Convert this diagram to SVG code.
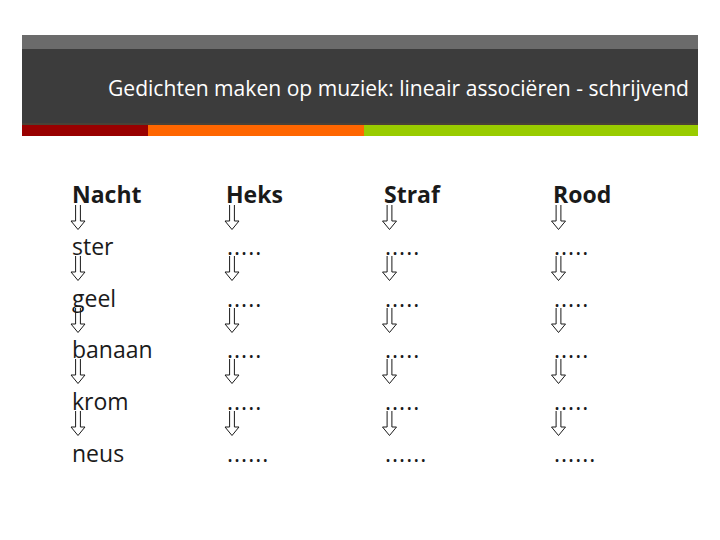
<svg xmlns="http://www.w3.org/2000/svg" width="720" height="540" viewBox="0 0 720 540">
<defs>
<style>
.t{font-family:"Open Sans","Liberation Sans",Arial,sans-serif;font-size:23px;fill:#1a1a1a}
.b{font-weight:bold}
.d{font-family:"Open Sans","Liberation Sans",Arial,sans-serif;font-size:23px;fill:#1a1a1a;letter-spacing:1px}
.ar{fill:none;stroke:#1a1a1a;stroke-width:1}
</style>
<path id="arr" d="M-2.4,0 V16 H-7 L0,24.5 L7,16 H2.4 V0"/>
</defs>
<rect width="720" height="540" fill="#ffffff"/>
<g id="header">
<rect x="22" y="35" width="676" height="14" fill="#6b6b6b"/>
<rect x="22" y="49" width="676" height="76" fill="#3c3c3c"/>
<rect x="22" y="123" width="676" height="2" fill="#4a4236"/>
<rect x="22" y="125" width="126" height="11" fill="#990000"/>
<rect x="148" y="125" width="216" height="11" fill="#ff6600"/>
<rect x="364" y="125" width="334" height="11" fill="#99cc00"/>
<text x="108" y="96" font-family="'Open Sans','Liberation Sans',Arial,sans-serif" font-size="22" fill="#ffffff" textLength="581" lengthAdjust="spacingAndGlyphs">Gedichten maken op muziek: lineair associëren - schrijvend</text>
</g>
<g id="col1">
<g id="n-nacht"><text class="t b" x="72" y="203">Nacht</text></g>
<g id="n-ster"><text class="t" x="72" y="255">ster</text></g>
<g id="n-geel"><text class="t" x="72" y="307">geel</text></g>
<g id="n-banaan"><text class="t" x="72" y="358">banaan</text></g>
<g id="n-krom"><text class="t" x="72" y="410">krom</text></g>
<g id="n-neus"><text class="t" x="72" y="462">neus</text></g>
</g>
<g id="col2">
<g id="n-heks"><text class="t b" x="226" y="203">Heks</text></g>
<g id="n-h1"><text class="d" x="227" y="255">.....</text></g>
<g id="n-h2"><text class="d" x="227" y="307">.....</text></g>
<g id="n-h3"><text class="d" x="227" y="358">.....</text></g>
<g id="n-h4"><text class="d" x="227" y="410">.....</text></g>
<g id="n-h5"><text class="d" x="227" y="462">......</text></g>
</g>
<g id="col3">
<g id="n-straf"><text class="t b" x="384" y="203">Straf</text></g>
<g id="n-s1"><text class="d" x="385" y="255">.....</text></g>
<g id="n-s2"><text class="d" x="385" y="307">.....</text></g>
<g id="n-s3"><text class="d" x="385" y="358">.....</text></g>
<g id="n-s4"><text class="d" x="385" y="410">.....</text></g>
<g id="n-s5"><text class="d" x="385" y="462">......</text></g>
</g>
<g id="col4">
<g id="n-rood"><text class="t b" x="553" y="203">Rood</text></g>
<g id="n-r1"><text class="d" x="554" y="255">.....</text></g>
<g id="n-r2"><text class="d" x="554" y="307">.....</text></g>
<g id="n-r3"><text class="d" x="554" y="358">.....</text></g>
<g id="n-r4"><text class="d" x="554" y="410">.....</text></g>
<g id="n-r5"><text class="d" x="554" y="462">......</text></g>
</g>
<g id="connectors" class="ar">
<use href="#arr" x="78" y="205"/>
<use href="#arr" x="78" y="256"/>
<use href="#arr" x="78" y="308"/>
<use href="#arr" x="78" y="359"/>
<use href="#arr" x="78" y="411"/>
<use href="#arr" x="232" y="205"/>
<use href="#arr" x="232" y="256"/>
<use href="#arr" x="232" y="308"/>
<use href="#arr" x="232" y="359"/>
<use href="#arr" x="232" y="411"/>
<use href="#arr" x="389.5" y="205"/>
<use href="#arr" x="389.5" y="256"/>
<use href="#arr" x="389.5" y="308"/>
<use href="#arr" x="389.5" y="359"/>
<use href="#arr" x="389.5" y="411"/>
<use href="#arr" x="558.5" y="205"/>
<use href="#arr" x="558.5" y="256"/>
<use href="#arr" x="558.5" y="308"/>
<use href="#arr" x="558.5" y="359"/>
<use href="#arr" x="558.5" y="411"/>
</g>
</svg>
